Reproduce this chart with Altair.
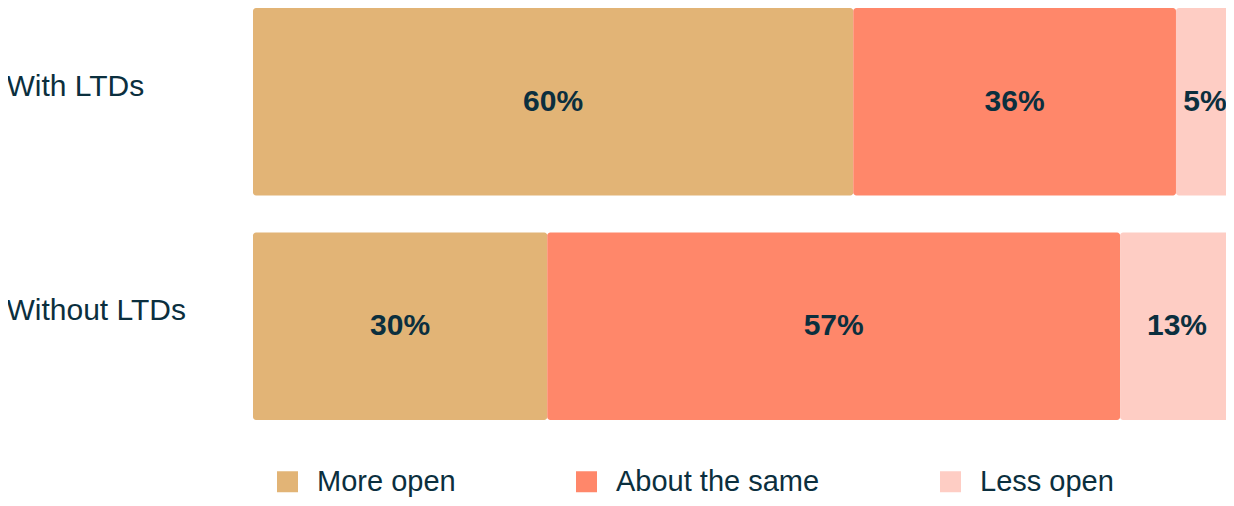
import altair as alt
import pandas as pd

groups = ["With LTDs", "Without LTDs"]
categories = ["More open", "About the same", "Less open"]
colors = ["#E2B476", "#FF876A", "#FECDC4"]
with_ltds = [61.2, 32.9, 5.9]
without_ltds = [30.0, 58.4, 11.6]
labels_with = ["60%", "36%", "5%"]
labels_without = ["30%", "57%", "13%"]

rows = []
for g, vals, labs in [(groups[0], with_ltds, labels_with), (groups[1], without_ltds, labels_without)]:
    cum = 0.0
    for i, (c, v, l) in enumerate(zip(categories, vals, labs)):
        rows.append({"group": g, "cat": c, "order": i, "start": cum, "end": cum + v,
                     "mid": cum + v / 2, "label": l})
        cum += v
df = pd.DataFrame(rows)

FONT = "Liberation Sans"
TXT = "#0B2F3E"

y = alt.Y("group:N", sort=groups, title=None,
          scale=alt.Scale(paddingInner=0.1648, paddingOuter=0),
          axis=alt.Axis(domain=False, ticks=False, grid=False, labelAlign="left",
                        labelPadding=247, labelFontSize=30, labelFont=FONT,
                        labelColor=TXT, labelOffset=-15, labelLimit=400))

xscale = alt.Scale(domain=[0, 99.2], nice=False, zero=True)

bars = alt.Chart(df).mark_bar(cornerRadius=3).encode(
    x=alt.X("start:Q", scale=xscale, axis=None),
    x2="end:Q",
    y=y,
    color=alt.Color("cat:N", sort=categories,
                    scale=alt.Scale(domain=categories, range=colors),
                    legend=alt.Legend(title=None, orient="none", direction="horizontal",
                                      legendX=20, legendY=459, symbolType="square",
                                      symbolSize=441, symbolStrokeWidth=0, symbolOpacity=1,
                                      labelFontSize=29, labelFont=FONT, labelColor=TXT,
                                      labelOffset=15, columnPadding=116, padding=0,
                                      labelLimit=400)),
    order="order:Q",
)

text = alt.Chart(df).mark_text(fontSize=30, fontWeight="bold", font=FONT, color=TXT,
                               baseline="middle", align="center").encode(
    x=alt.X("mid:Q", scale=xscale),
    y=alt.Y("group:N", sort=groups),
    text="label:N",
)

chart = (bars + text).properties(
    width=973, height=412,
    autosize=alt.AutoSizeParams(type="none"),
    padding={"left": 245, "top": 0, "right": 0, "bottom": 78},
).configure_view(stroke=None)

chart.save("out.html", embed_options={"renderer": "svg", "actions": False})
